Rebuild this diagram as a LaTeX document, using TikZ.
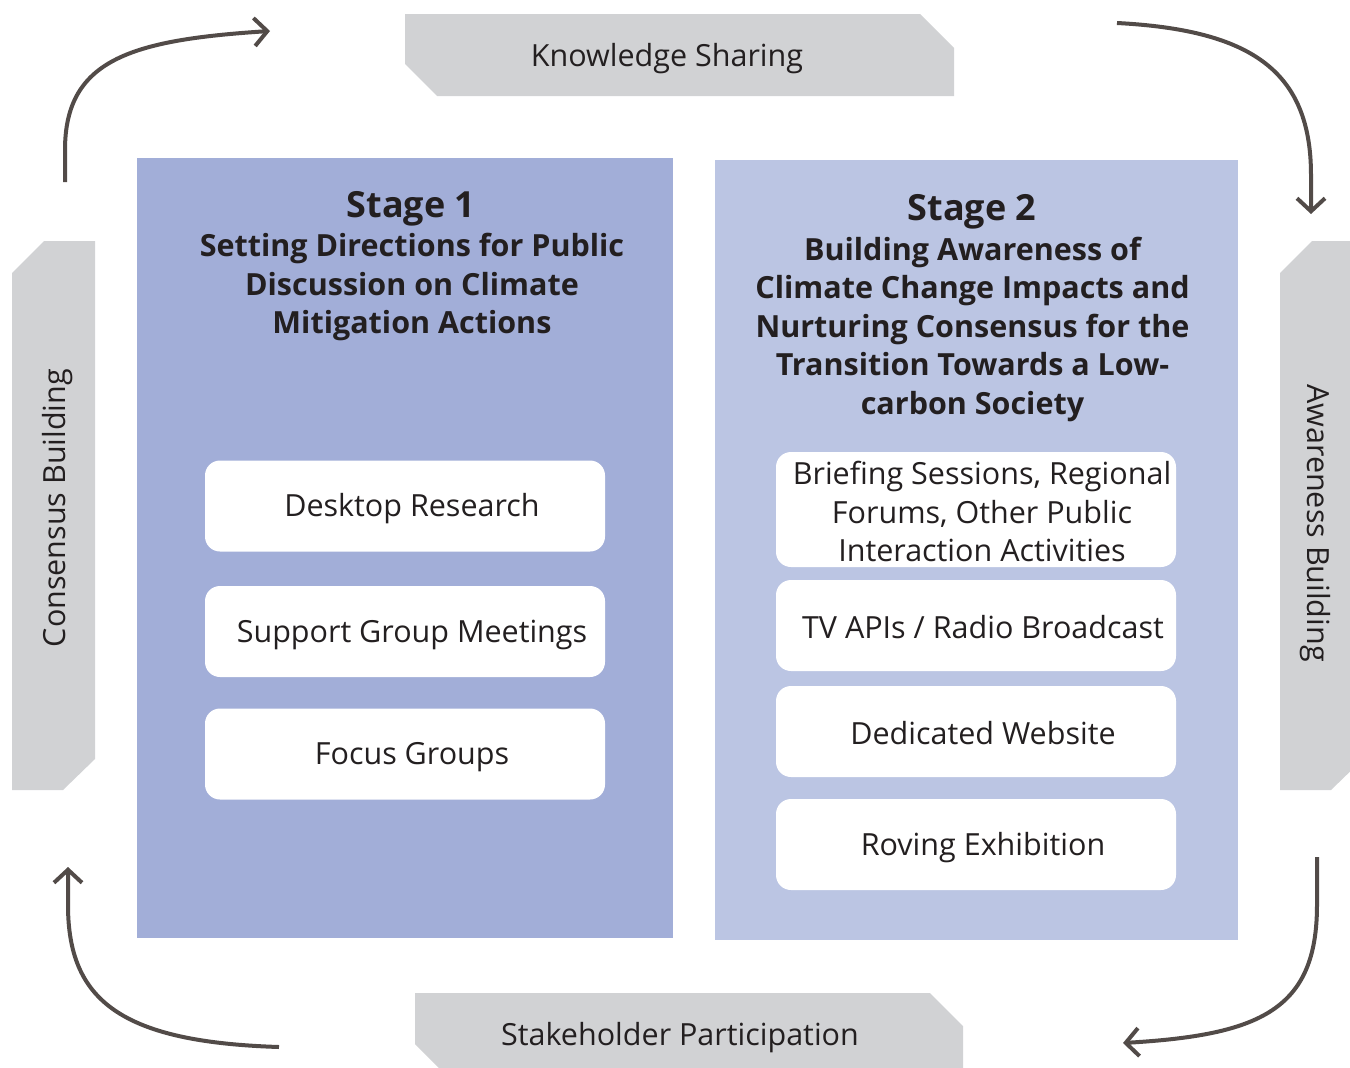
\documentclass[tikz,border=0pt]{standalone}
\usepackage{fontspec}
\setmainfont{Open Sans}
\usetikzlibrary{arrows.meta}
\definecolor{stageA}{HTML}{A2AED8}
\definecolor{stageB}{HTML}{BBC5E3}
\definecolor{bannergray}{HTML}{D1D2D4}
\definecolor{arrowcol}{HTML}{524B48}
\definecolor{txt}{HTML}{231F20}
\tikzset{
  stagebox/.style={rectangle, inner sep=0pt},
  itembox/.style={rectangle, rounded corners=15pt, fill=white, minimum width=400pt, minimum height=91pt, inner sep=0pt},
  itemtxt/.style={align=center, text=txt, inner sep=0pt, font=\fontsize{30.5}{38.5}\selectfont},
  titletxt/.style={align=center, text=txt, font=\bfseries\fontsize{30.5}{38.5}\selectfont},
  bigtxt/.style={align=center, text=txt, font=\bfseries\fontsize{36}{40}\selectfont},
  bannertxt/.style={text=txt, font=\fontsize{30.5}{34}\selectfont},
  cyclearrow/.style={draw=arrowcol, line width=4pt, -{Straight Barb[length=13pt,width=28pt,line width=4pt]}}
}
\begin{document}
\begin{tikzpicture}[x=1pt,y=-1pt]
\useasboundingbox (0,0) rectangle (1350,1068);
\clip (0,0) rectangle (1350,1068);

% banners
\fill[bannergray] (405,14) -- (920,14) -- (954,48) -- (954,96) -- (437,96) -- (405,64) -- cycle;
\node[bannertxt] (ks) at (667,59) {Knowledge Sharing};
\fill[bannergray] (415,993) -- (930,993) -- (963,1026) -- (963,1076) -- (447,1076) -- (415,1044) -- cycle;
\node[bannertxt] (sp) at (680,1038) {Stakeholder Participation};
\fill[bannergray] (44,241) -- (95,241) -- (95,759) -- (63,790) -- (12,790) -- (12,273) -- cycle;
\node[bannertxt, rotate=90] (cb) at (58,508) {Consensus Building};
\fill[bannergray] (1312,241) -- (1363,241) -- (1363,759) -- (1331,790) -- (1280,790) -- (1280,273) -- cycle;
\node[bannertxt, rotate=-90] (ab) at (1315,523) {Awareness Building};

% stage boxes
\node[stagebox, fill=stageA, minimum width=536pt, minimum height=780pt] (s1) at (405,548) {};
\node[stagebox, fill=stageB, minimum width=523pt, minimum height=780pt] (s2) at (976.5,550) {};

\node[bigtxt] (s1t) at (411,209) {Stage 1};
\node[titletxt] (s1s) at (412,287) {Setting Directions for Public\\Discussion on Climate\\Mitigation Actions};
\node[bigtxt] (s2t) at (972,212) {Stage 2};
\node[titletxt] (s2s) at (972.5,329) {Building Awareness of\\Climate Change Impacts and\\Nurturing Consensus for the\\Transition Towards a Low-\\carbon Society};

% items stage 1
\node[itembox] (dr) at (405,506) {};
\node[itemtxt] (drt) at ([xshift=7pt,yshift=-3pt]dr.center) {Desktop Research};
\node[itembox] (sg) at (405,631.5) {};
\node[itemtxt] (sgt) at ([xshift=7pt,yshift=-3pt]sg.center) {Support Group Meetings};
\node[itembox] (fg) at (405,754) {};
\node[itemtxt] (fgt) at ([xshift=7pt,yshift=-3pt]fg.center) {Focus Groups};

% items stage 2
\node[itembox, minimum height=115pt] (bs) at (976,509.5) {};
\node[itemtxt] (bst) at ([xshift=6pt,yshift=-2pt]bs.center) {Briefing Sessions, Regional\\Forums, Other Public\\Interaction Activities};
\node[itembox] (tv) at (976,625.5) {};
\node[itemtxt] (tvt) at ([xshift=7pt,yshift=-2pt]tv.center) {TV APIs / Radio Broadcast};
\node[itembox] (dw) at (976,731.5) {};
\node[itemtxt] (dwt) at ([xshift=7pt,yshift=-2pt]dw.center) {Dedicated Website};
\node[itembox] (re) at (976,844.5) {};
\node[itemtxt] (ret) at ([xshift=7pt,yshift=-3pt]re.center) {Roving Exhibition};

% arrows
\coordinate (a1s) at (65,182);
\coordinate (a1e) at (270,31);
\coordinate (a2s) at (1117,23);
\coordinate (a2e) at (1311,214);
\coordinate (a3s) at (1317,857);
\coordinate (a3e) at (1123,1043);
\coordinate (a4s) at (279,1047);
\coordinate (a4e) at (68,867);

\draw[cyclearrow] (a1s) -- (65,150) .. controls (65,60) and (130,40) .. (a1e);
\draw[cyclearrow] (a2s) .. controls (1250,30) and (1311,70) .. (1311,175) -- (a2e);
\draw[cyclearrow] (a3s) -- (1317,905) .. controls (1317,1010) and (1260,1035) .. (a3e);
\draw[cyclearrow] (a4s) .. controls (120,1042) and (68,1000) .. (68,905) -- (a4e);
\end{tikzpicture}
\end{document}
